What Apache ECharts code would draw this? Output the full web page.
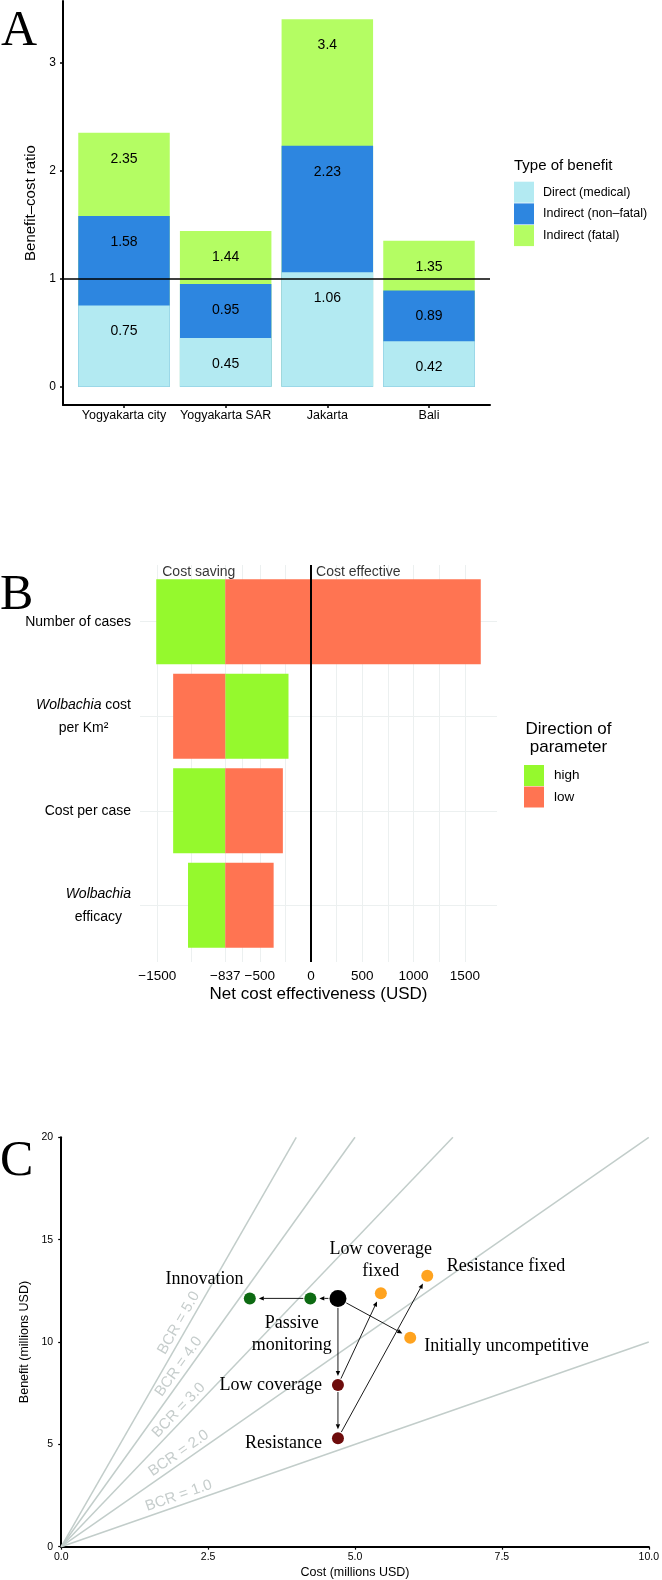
<!DOCTYPE html>
<html><head><meta charset="utf-8">
<script src="https://cdn.jsdelivr.net/npm/echarts@6/dist/echarts.min.js"></script>
<style>html,body{margin:0;padding:0;background:#fff}#c{width:662px;height:1580px}</style>
</head><body><div id="c"></div>
<script>
// ---------- Panel A data ----------
const regions = ['Yogyakarta city', 'Yogyakarta SAR', 'Jakarta', 'Bali'];
const benefitTypes = ['Direct (medical)', 'Indirect (non\u2013fatal)', 'Indirect (fatal)'];
const directMedical = [0.75, 0.45, 1.06, 0.42];          // cumulative top of direct
const indirectNonFatalCum = [1.58, 0.95, 2.23, 0.89];    // cumulative top of non-fatal
const indirectFatalCum = [2.35, 1.44, 3.4, 1.35];        // cumulative top of fatal
const yTicksA = [0, 1, 2, 3];

// ---------- Panel B data ----------
const parameters = ['Number of cases', 'Wolbachia cost per Km\u00b2', 'Cost per case', 'Wolbachia efficacy'];
const directions = ['high', 'low'];
const baselineNCE = -837;
const highValues = [-1510, -220, -1345, -1200];
const lowValues = [1655, -1345, -275, -365];
const xBreaksB = [-1500, -837, -500, 0, 500, 1000, 1500];
const annotationsB = ['Cost saving', 'Cost effective'];
const annotationXB = [-1500, 0];

// ---------- Panel C data ----------
const scenarios = ['Baseline', 'Passive monitoring', 'Innovation', 'Low coverage fixed', 'Resistance fixed', 'Initially uncompetitive', 'Low coverage', 'Resistance'];
const costs = [4.71, 4.24, 3.21, 5.44, 6.23, 5.94, 4.71, 4.71];
const benefits = [12.13, 12.13, 12.13, 12.38, 13.24, 10.21, 7.90, 5.30];
const scenarioGroup = ['base', 'cheaper', 'cheaper', 'fixed', 'fixed', 'fixed', 'worse', 'worse'];
const arrowFrom = ['Baseline', 'Passive monitoring', 'Baseline', 'Low coverage', 'Baseline', 'Low coverage', 'Resistance'];
const arrowTo = ['Passive monitoring', 'Innovation', 'Low coverage', 'Resistance', 'Initially uncompetitive', 'Low coverage fixed', 'Resistance fixed'];
const bcrValues = [1, 2, 3, 4, 5];
const xTicksC = [0, 2.5, 5, 7.5, 10];
const yTicksC = [0, 5, 10, 15, 20];

// ---------- styles ----------
const SANS = 'Liberation Sans';
const SERIF = 'Liberation Serif';
const colA = {'Direct (medical)': '#B3EAF2', 'Indirect (non\u2013fatal)': '#2D86E0', 'Indirect (fatal)': '#B4FD63'};
const colB = {high: '#95F92D', low: '#FF7452'};
const groupColor = {base: '#000000', cheaper: '#0D6A12', fixed: '#FFA31F', worse: '#6E0C0C'};
const groupSize = {base: 17, cheaper: 12, fixed: 12, worse: 12};
const labelCfg = {
  'Passive monitoring': {text: 'Passive\nmonitoring', position: 'inside', offset: [-18.6, 35.6]},
  'Innovation': {text: 'Innovation', position: 'inside', offset: [-45.4, -19.4]},
  'Low coverage fixed': {text: 'Low coverage\nfixed', position: 'inside', offset: [0, -33]},
  'Resistance fixed': {text: 'Resistance fixed', position: 'right', distance: 13.5, offset: [0, -9.7]},
  'Initially uncompetitive': {text: 'Initially uncompetitive', position: 'right', distance: 8, offset: [0, 8.3]},
  'Low coverage': {text: 'Low coverage', position: 'left', distance: 10, offset: [0, 0]},
  'Resistance': {text: 'Resistance', position: 'left', distance: 10, offset: [0, 5]}
};
const bcrLabelX = 2;

// ggplot-like expansion
function expand(lo, hi, f) { const r = hi - lo; return [lo - r * f, hi + r * f]; }
const yRangeA = expand(0, Math.max(...indirectFatalCum), 0.05);
const allB = highValues.concat(lowValues, [baselineNCE]);
const xRangeB = expand(Math.min(...allB), Math.max(...allB), 0.05);
const gridLinesB = [];
xBreaksB.forEach((v, i) => { gridLinesB.push(v); if (i < xBreaksB.length - 1) gridLinesB.push((v + xBreaksB[i + 1]) / 2); });
const catIdx = [1, 2, 3, 4];
const minus = v => String(v).replace('-', '\u2212');

const chart = echarts.init(document.getElementById('c'));

function barSeriesA(name, values, extra) {
  return Object.assign({
    type: 'bar', name, xAxisIndex: 0, yAxisIndex: 0,
    data: values.map((v, i) => [i + 1, v]),
    barWidth: '90%', barGap: '-100%',
    itemStyle: {color: colA[name]},
    label: {show: true, position: 'insideTop', distance: 19, fontSize: 14, color: '#000', fontFamily: SANS,
      formatter: p => String(p.value[1])},
    emphasis: {disabled: true}
  }, extra || {});
}

const option = {
  animation: false,
  textStyle: {fontFamily: SANS},
  title: [
    {text: 'A', left: 1, top: 7, padding: 0, textStyle: {fontFamily: SERIF, fontSize: 50, fontWeight: 'normal', color: '#000'}},
    {text: 'B', left: 0, top: 571, padding: 0, textStyle: {fontFamily: SERIF, fontSize: 50, fontWeight: 'normal', color: '#000'}},
    {text: 'C', left: 0, top: 1137, padding: 0, textStyle: {fontFamily: SERIF, fontSize: 50, fontWeight: 'normal', color: '#000'}},
    {text: 'Type of benefit', left: 514, top: 158, padding: 0, textStyle: {fontFamily: SANS, fontSize: 15, fontWeight: 'normal', color: '#000'}},
    {text: 'Direction of\nparameter', left: 568.5, top: 720, padding: 0, textAlign: 'center',
      textStyle: {fontFamily: SANS, fontSize: 17, lineHeight: 18.5, fontWeight: 'normal', color: '#000'}}
  ],
  legend: [
    {data: benefitTypes, orient: 'vertical', left: 514, top: 181.7, padding: 0, itemWidth: 20, itemHeight: 21, itemGap: 0.7,
      icon: 'rect', selectedMode: false, textStyle: {fontSize: 12.5, color: '#000', padding: [0, 0, 0, 4]}},
    {data: directions, orient: 'vertical', left: 524, top: 765, padding: 0, itemWidth: 20, itemHeight: 21, itemGap: 0.5,
      icon: 'rect', selectedMode: false, textStyle: {fontSize: 13.5, color: '#000', padding: [0, 0, 0, 5]}}
  ],
  grid: [
    {left: 63, top: 1, width: 427, height: 404},
    {left: 140, top: 565, width: 357, height: 397},
    {left: 61.2, top: 1137.3, width: 590.2, height: 409.4}
  ],
  xAxis: [
    {type: 'value', gridIndex: 0, min: 0.4, max: 4.6,
      axisLine: {show: true, onZero: false, lineStyle: {color: '#000', width: 2}},
      axisTick: {show: true, customValues: catIdx, length: 3, lineStyle: {color: '#000', width: 1.5}},
      axisLabel: {customValues: catIdx, formatter: v => regions[Math.round(v) - 1], margin: 4, fontSize: 12.5, color: '#000'},
      splitLine: {show: false}},
    {type: 'value', gridIndex: 1, min: xRangeB[0], max: xRangeB[1],
      axisLine: {show: false},
      axisTick: {show: false, customValues: gridLinesB},
      axisLabel: {customValues: xBreaksB, formatter: minus, margin: 7, fontSize: 13.5, color: '#000'},
      splitLine: {show: true, lineStyle: {color: '#ECF0F0', width: 1}},
      name: 'Net cost effectiveness (USD)', nameLocation: 'middle', nameGap: 24,
      nameTextStyle: {fontSize: 17, color: '#000'}},
    {type: 'value', gridIndex: 2, min: 0, max: 10,
      axisLine: {show: true, onZero: false, lineStyle: {color: '#000', width: 2}},
      axisTick: {show: true, customValues: xTicksC, length: 3, lineStyle: {color: '#000', width: 1.2}},
      axisLabel: {customValues: xTicksC, formatter: v => v.toFixed(1), margin: 5, fontSize: 10.5, color: '#000'},
      splitLine: {show: false},
      name: 'Cost (millions USD)', nameLocation: 'middle', nameGap: 19, nameTextStyle: {fontSize: 12.5, color: '#000'}}
  ],
  yAxis: [
    {type: 'value', gridIndex: 0, min: yRangeA[0], max: yRangeA[1],
      axisLine: {show: true, onZero: false, lineStyle: {color: '#000', width: 2}},
      axisTick: {show: true, customValues: yTicksA, length: 3, lineStyle: {color: '#000', width: 1.5}},
      axisLabel: {customValues: yTicksA, margin: 7, fontSize: 12, color: '#000'},
      splitLine: {show: false},
      name: 'Benefit\u2013cost ratio', nameLocation: 'middle', nameGap: 18, nameTextStyle: {fontSize: 15, color: '#000'}},
    {type: 'value', gridIndex: 1, min: 0.4, max: 4.6, inverse: true,
      axisLine: {show: false},
      axisTick: {show: false, customValues: catIdx},
      axisLabel: {customValues: catIdx, margin: 9, fontSize: 14, color: '#000',
        formatter: v => {
          const t = parameters[Math.round(v) - 1];
          if (t.indexOf('Wolbachia') === 0) {
            const rest = t.slice(10);
            if (rest === 'efficacy') return '{i|Wolbachia}\n{n|efficacy}';
            return '{i|Wolbachia}{n| cost}\n{n|per Km\u00b2}';
          }
          return t;
        },
        rich: {
          i: {fontStyle: 'italic', fontSize: 14, align: 'center', lineHeight: 23, color: '#000', fontFamily: SANS},
          n: {fontSize: 14, align: 'center', lineHeight: 23, color: '#000', fontFamily: SANS}
        }},
      splitLine: {show: true, lineStyle: {color: '#ECF0F0', width: 1}}},
    {type: 'value', gridIndex: 2, min: 0, max: 20,
      axisLine: {show: true, onZero: false, lineStyle: {color: '#000', width: 2}},
      axisTick: {show: true, customValues: yTicksC, length: 3, lineStyle: {color: '#000', width: 1.2}},
      axisLabel: {customValues: yTicksC, margin: 8, fontSize: 10.5, color: '#000'},
      splitLine: {show: false},
      name: 'Benefit (millions USD)', nameLocation: 'middle', nameGap: 24, nameTextStyle: {fontSize: 12.5, color: '#000'}}
  ],
  series: []
};

// Panel A bars (cumulative tops, drawn tallest first)
option.series.push(barSeriesA(benefitTypes[2], indirectFatalCum));
option.series.push(barSeriesA(benefitTypes[1], indirectNonFatalCum));
option.series.push(barSeriesA(benefitTypes[0], directMedical, {
  markLine: {silent: true, symbol: 'none', z: 5, label: {show: false},
    lineStyle: {color: '#000', width: 1.5, type: 'solid'}, data: [{yAxis: 1}]}
}));

// Panel B tornado bars
function tornado(dir, values) {
  return {
    type: 'custom', name: dir, xAxisIndex: 1, yAxisIndex: 1,
    itemStyle: {color: colB[dir]},
    data: values.map((v, i) => [baselineNCE, v, i + 1]),
    encode: {x: [0, 1], y: 2},
    renderItem: (params, api) => {
      const a = api.coord([api.value(0), api.value(2)]);
      const b = api.coord([api.value(1), api.value(2)]);
      const h = api.size([0, 0.9])[1];
      return {type: 'rect', shape: {x: Math.min(a[0], b[0]), y: a[1] - h / 2, width: Math.abs(b[0] - a[0]), height: h},
        style: {fill: colB[dir]}};
    }
  };
}
option.series.push(tornado('high', highValues));
option.series.push(tornado('low', lowValues));
option.series.push({
  type: 'line', xAxisIndex: 1, yAxisIndex: 1, data: [],
  markLine: {silent: true, symbol: 'none', label: {show: false}, lineStyle: {color: '#000', width: 2, type: 'solid'},
    data: [{xAxis: 0}]}
});
option.series.push({
  type: 'scatter', xAxisIndex: 1, yAxisIndex: 1, symbolSize: 0, silent: true,
  data: annotationsB.map((t, i) => [annotationXB[i], 0.48, t]),
  label: {show: true, position: 'right', distance: 5, fontSize: 14, color: '#000', formatter: p => p.value[2]}
});

// Panel C: BCR reference lines
bcrValues.forEach(b => {
  const xe = Math.min(10, 20 / b);
  option.series.push({
    type: 'line', xAxisIndex: 2, yAxisIndex: 2, silent: true, symbol: 'none', z: 1,
    data: [[0, 0], [xe, b * xe]],
    lineStyle: {color: '#C2CDCA', width: 1.5}
  });
});
option.series.push({
  type: 'custom', xAxisIndex: 2, yAxisIndex: 2, silent: true, z: 1,
  data: bcrValues.map(b => [bcrLabelX, b * bcrLabelX, b]),
  encode: {x: 0, y: 1},
  renderItem: (params, api) => {
    const p1 = api.coord([api.value(0), api.value(1)]);
    const p0 = api.coord([0, 0]);
    const ang = Math.atan2(p0[1] - p1[1], p1[0] - p0[0]);
    const off = 9.5;
    return {type: 'text', x: p1[0], y: p1[1] - off / Math.cos(ang), rotation: ang,
      style: {text: 'BCR = ' + api.value(2).toFixed(1), fill: '#C6CDCC', fontSize: 15, fontFamily: SANS,
        align: 'center', verticalAlign: 'middle'}};
  }
});

// Panel C arrows
const sizeOfIdx = i => groupSize[scenarioGroup[i]];
option.series.push({
  type: 'custom', xAxisIndex: 2, yAxisIndex: 2, silent: true, z: 3,
  data: arrowFrom.map((f, i) => {
    const a = scenarios.indexOf(f), b = scenarios.indexOf(arrowTo[i]);
    return [costs[a], benefits[a], costs[b], benefits[b], a, b];
  }),
  encode: {x: [0, 2], y: [1, 3]},
  renderItem: (params, api) => {
    const p = api.coord([api.value(0), api.value(1)]);
    const q = api.coord([api.value(2), api.value(3)]);
    const r1 = sizeOfIdx(api.value(4)) / 2 + 1, r2 = sizeOfIdx(api.value(5)) / 2 + 3;
    const dx = q[0] - p[0], dy = q[1] - p[1], L = Math.hypot(dx, dy), ux = dx / L, uy = dy / L;
    const s = [p[0] + ux * r1, p[1] + uy * r1], e = [q[0] - ux * r2, q[1] - uy * r2];
    const hl = 5, hw = 2.2;
    const base = [e[0] - ux * hl, e[1] - uy * hl];
    return {type: 'group', children: [
      {type: 'line', shape: {x1: s[0], y1: s[1], x2: base[0], y2: base[1]}, style: {stroke: '#000', lineWidth: 0.9}},
      {type: 'polygon', shape: {points: [e, [base[0] - uy * hw, base[1] + ux * hw], [base[0] + uy * hw, base[1] - ux * hw]]},
        style: {fill: '#000'}}
    ]};
  }
});

// Panel C scenario points
option.series.push({
  type: 'scatter', xAxisIndex: 2, yAxisIndex: 2, z: 4, silent: true,
  data: scenarios.map((n, i) => {
    const cfg = labelCfg[n];
    return {
      name: n, value: [costs[i], benefits[i]],
      symbolSize: groupSize[scenarioGroup[i]],
      itemStyle: {color: groupColor[scenarioGroup[i]], opacity: 1},
      label: cfg ? {show: true, formatter: cfg.text, position: cfg.position, distance: cfg.distance || 0,
        offset: cfg.offset, fontFamily: SERIF, fontSize: 18, lineHeight: 22, color: '#000', align: cfg.position === 'inside' ? 'center' : undefined} : {show: false}
    };
  })
});

chart.setOption(option);
</script>
</body></html>
